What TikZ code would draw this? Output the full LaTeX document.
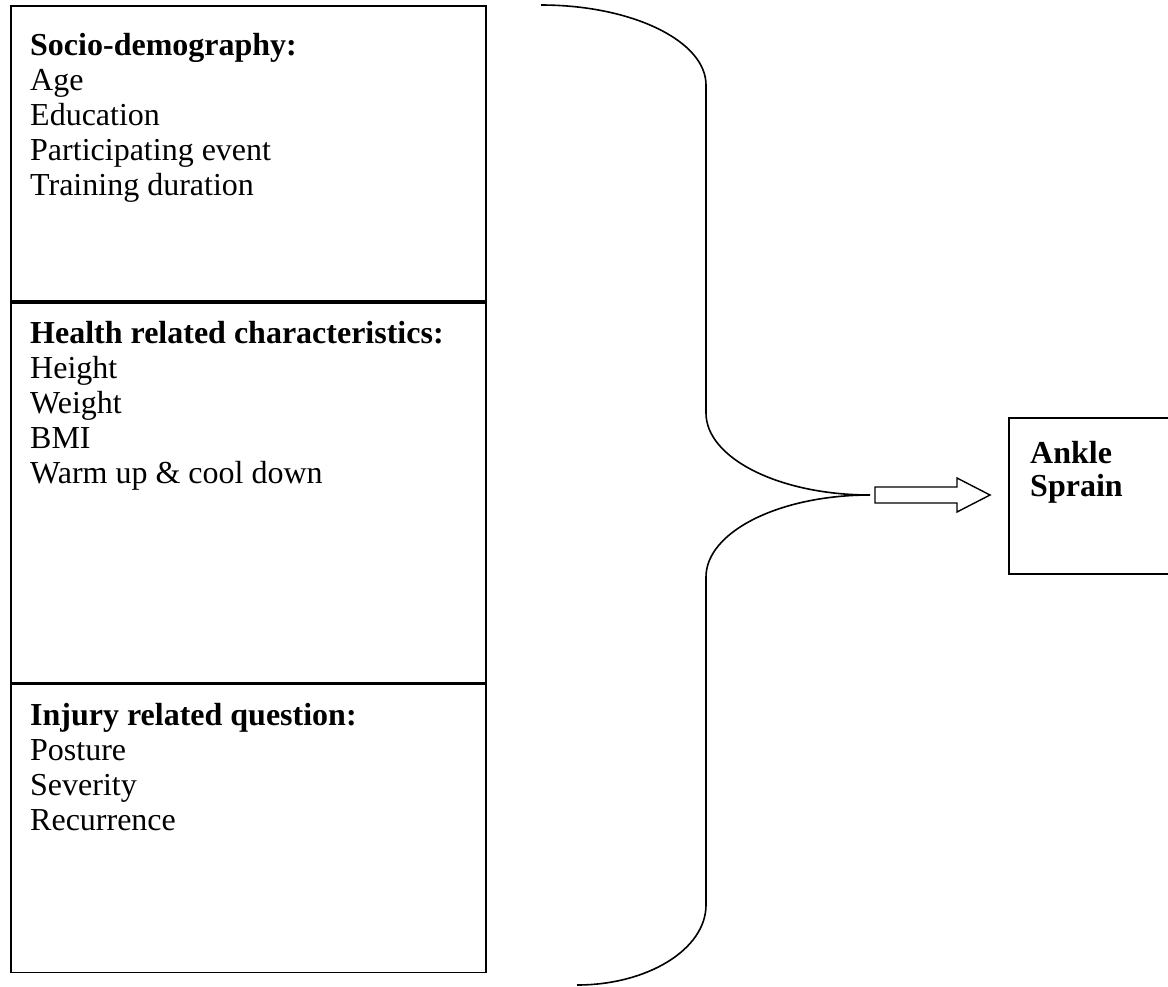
\documentclass[tikz,border=0pt]{standalone}
\usepackage{fontspec}
\setmainfont{Liberation Serif}
\usetikzlibrary{calc}

\begin{document}
\begin{tikzpicture}[x=1pt,y=-1pt,
	box/.style={draw,line width=1.8pt,anchor=north west,inner sep=0pt,minimum width=475pt},
	head/.style={font=\fontsize{32}{36}\selectfont\bfseries,anchor=base west,inner sep=0pt},
	item/.style={font=\fontsize{32}{36}\selectfont,anchor=base west,inner sep=0pt}]
	
	\useasboundingbox (0,0) rectangle (1168,986);
	\clip (0,0) rectangle (1168,986);
	
	% left column
	\node[box,minimum height=295pt] (socio) at (10,5) {};
	\node[box,minimum height=380pt] (health) at (socio.south west) {};
	\node[box,minimum height=288pt] (injury) at (health.south west) {};
	
	\node[head] (socioh) at ($(socio.north west)+(20,50)$) {Socio-demography:};
	\foreach \t [count=\i] in {Age,Education,Participating event,Training duration}
		\node[item] (socio\i) at ($(socioh.base west)+(0,35*\i)$) {\t};
	
	\node[head] (healthh) at ($(health.north west)+(20,42)$) {Health related characteristics:};
	\foreach \t [count=\i] in {Height,Weight,BMI,Warm up \& cool down}
		\node[item] (health\i) at ($(healthh.base west)+(0,35*\i)$) {\t};
	
	\node[head] (injuryh) at ($(injury.north west)+(20,42)$) {Injury related question:};
	\foreach \t [count=\i] in {Posture,Severity,Recurrence}
		\node[item] (injury\i) at ($(injuryh.base west)+(0,35*\i)$) {\t};
	
	% outcome
	\node[box,minimum width=200pt,minimum height=156pt] (ankle) at (1008,417) {};
	\node[head] (ankleh) at ($(ankle.north west)+(22,46)$) {Ankle};
	\node[head] (sprain) at ($(ankleh.base west)+(0,33)$) {Sprain};
	
	% brace
	\coordinate (tip) at (870,495);
	\draw[line width=1.6pt] (541,5) .. controls (632,5) and (706,41) .. (706,85)
		-- (706,413) .. controls (706,458) and (779,495) .. (tip)
		.. controls (779,495) and (706,532) .. (706,577)
		-- (706,905) .. controls (706,949) and (648,985) .. (577,985);
	
	% block arrow
	\draw[line width=1.4pt] ($(tip)+(5,-8)$) -- ++(82,0) -- ++(0,-9)
		-- ($(tip)+(120,0)$) -- ($(tip)+(87,17)$) -- ++(0,-9) -- ($(tip)+(5,8)$) -- cycle;
	
\end{tikzpicture}
\end{document}
